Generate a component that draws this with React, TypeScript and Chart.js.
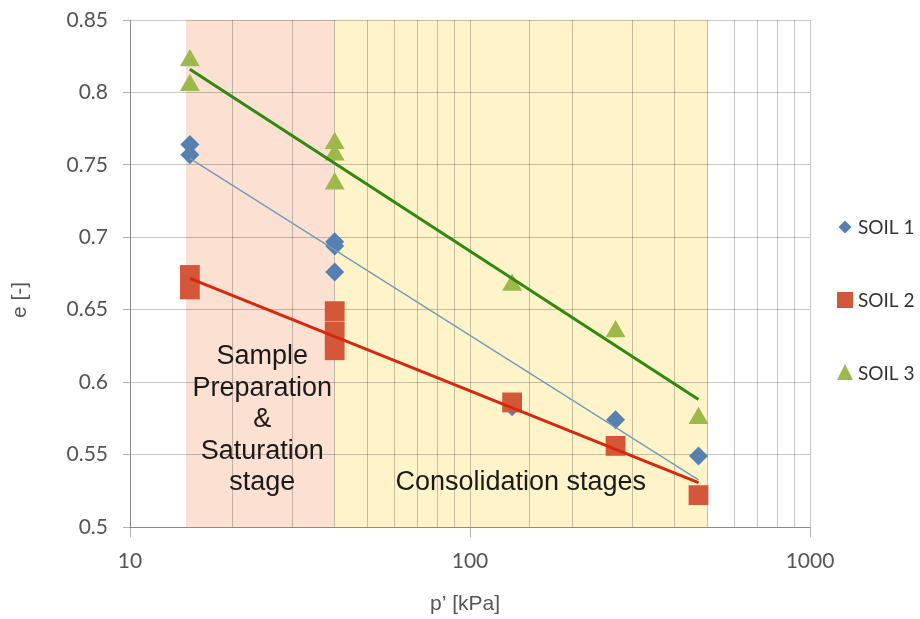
import React, { useEffect, useRef } from 'react';
import { Chart, registerables } from 'chart.js';

Chart.register(...registerables);

// ---- data ----
const soil1X = [15, 15, 40, 40, 40, 133, 268, 470];
const soil1Y = [0.764, 0.757, 0.697, 0.694, 0.676, 0.583, 0.574, 0.549];
const soil2X = [15, 15, 40, 40, 40, 133, 268, 470];
const soil2Y = [0.674, 0.664, 0.649, 0.635, 0.622, 0.586, 0.556, 0.522];
const soil3X = [15, 15, 40, 40, 40, 133, 268, 470];
const soil3Y = [0.822, 0.805, 0.765, 0.757, 0.737, 0.667, 0.635, 0.575];
const trendX = [15, 470];
const trend1Y = [0.7545, 0.5325];
const trend2Y = [0.6717, 0.5306];
const trend3Y = [0.816, 0.588];
const bandStart = [14.6, 40];
const bandEnd = [40, 500];
const stageLabelX = [24.5, 141];
const stageLabelY = [0.6175, 0.5305];
const stageLabels = [
  ['Sample', 'Preparation', '&', 'Saturation', 'stage'],
  ['Consolidation stages'],
];
const xTickLabels = [10, 100, 1000];
const seriesNames = ['SOIL 1', 'SOIL 2', 'SOIL 3'];
const xTitle = 'p\u2019 [kPa]';
const yTitle = 'e [-]';

const C1 = '#5580B0';
const C2 = '#D5573A';
const C3 = '#9DB84B';
const BAND_COLORS = ['rgb(252,224,210)', 'rgb(255,243,201)'];

const pts = (xs: number[], ys: number[]) => xs.map((x, i) => ({ x, y: ys[i] }));

const bandsPlugin = {
  id: 'bands',
  beforeDraw(chart: any) {
    const { ctx, chartArea } = chart;
    const xs = chart.scales.x;
    ctx.save();
    for (let i = 0; i < bandStart.length; i++) {
      const a = xs.getPixelForValue(bandStart[i]);
      const b = xs.getPixelForValue(bandEnd[i]);
      ctx.fillStyle = BAND_COLORS[i];
      ctx.fillRect(a, chartArea.top, b - a, chartArea.bottom - chartArea.top);
    }
    ctx.restore();
  },
};

const stageTextPlugin = {
  id: 'stageText',
  beforeDatasetsDraw(chart: any) {
    const { ctx } = chart;
    const xs = chart.scales.x;
    const ys = chart.scales.y;
    ctx.save();
    ctx.fillStyle = '#1a1a1a';
    ctx.font = '27px "Liberation Sans", Arial, sans-serif';
    ctx.textAlign = 'center';
    ctx.textBaseline = 'middle';
    for (let i = 0; i < stageLabels.length; i++) {
      const x = xs.getPixelForValue(stageLabelX[i]);
      const y0 = ys.getPixelForValue(stageLabelY[i]);
      stageLabels[i].forEach((line, j) => ctx.fillText(line, x, y0 + j * 31.5));
    }
    ctx.restore();
  },
};

const decorPlugin = {
  id: 'decor',
  afterDraw(chart: any) {
    const { ctx, chartArea } = chart;
    ctx.save();
    // axis titles
    ctx.fillStyle = '#555';
    ctx.font = '21px "Liberation Sans", Arial, sans-serif';
    ctx.textAlign = 'center';
    ctx.textBaseline = 'middle';
    ctx.fillText(xTitle, (chartArea.left + chartArea.right) / 2 - 5, 604);
    ctx.save();
    ctx.translate(20, 300);
    ctx.rotate(-Math.PI / 2);
    ctx.fillText(yTitle, 0, 0);
    ctx.restore();
    // legend
    const lx = chartArea.right + 35;
    const ly = [227, 300, 373];
    const colors = [C1, C2, C3];
    ctx.font = '19px Lato, sans-serif';
    ctx.textAlign = 'left';
    for (let i = 0; i < 3; i++) {
      const y = ly[i];
      ctx.fillStyle = colors[i];
      ctx.beginPath();
      if (i === 0) {
        ctx.moveTo(lx - 6.5, y); ctx.lineTo(lx, y - 6.5); ctx.lineTo(lx + 6.5, y); ctx.lineTo(lx, y + 6.5);
      } else if (i === 1) {
        ctx.rect(lx - 8, y - 8, 16, 16);
      } else {
        ctx.moveTo(lx, y - 9); ctx.lineTo(lx + 8, y + 7); ctx.lineTo(lx - 8, y + 7);
      }
      ctx.closePath();
      ctx.fill();
      ctx.fillStyle = '#333';
      ctx.fillText(seriesNames[i], lx + 13, y + 1);
    }
    ctx.restore();
  },
};

export default function App() {
  const ref = useRef<HTMLCanvasElement>(null);
  useEffect(() => {
    if (!ref.current) return;
    Chart.defaults.font.family = 'Lato, sans-serif';
    const chart = new Chart(ref.current, {
      type: 'scatter',
      data: {
        datasets: [
          { label: 'trend3', data: pts(trendX, trend3Y), showLine: true, borderColor: '#2F8A10', borderWidth: 3, pointRadius: 0, order: 0 },
          { label: 'trend2', data: pts(trendX, trend2Y), showLine: true, borderColor: '#D6280C', borderWidth: 3, pointRadius: 0, order: 0 },
          { label: 'trend1', data: pts(trendX, trend1Y), showLine: true, borderColor: '#6E9DB8', borderWidth: 1.3, pointRadius: 0, order: 0 },
          { label: seriesNames[1], data: pts(soil2X, soil2Y), pointStyle: 'rect', pointRadius: 14, backgroundColor: C2, borderWidth: 0, order: 1 },
          { label: seriesNames[2], data: pts(soil3X, soil3Y), pointStyle: 'triangle', pointRadius: 11.5, backgroundColor: C3, borderWidth: 0, order: 2 },
          { label: seriesNames[0], data: pts(soil1X, soil1Y), pointStyle: 'rectRot', pointRadius: 9.5, backgroundColor: C1, borderWidth: 0, order: 3 },
        ] as any,
      },
      options: {
        animation: false,
        responsive: true,
        maintainAspectRatio: false,
        layout: { padding: { top: 20, right: 110, left: 0, bottom: 0 } },
        plugins: { legend: { display: false }, tooltip: { enabled: false } },
        scales: {
          x: {
            type: 'logarithmic',
            min: 10,
            max: 1000,
            afterFit: (s: any) => { s.height = 92; },
            grid: {
              color: 'rgba(0,0,0,0.22)',
              tickLength: 10,
              tickColor: (c: any) => (c.tick && xTickLabels.includes(c.tick.value) ? 'rgba(0,0,0,0.3)' : 'rgba(0,0,0,0)'),
            },
            border: { color: 'rgba(0,0,0,0.3)' },
            ticks: {
              autoSkip: false,
              maxRotation: 0,
              padding: 12,
              color: '#555',
              font: { size: 21 },
              callback: (v: any) => (xTickLabels.includes(Number(v)) ? String(v) : ''),
            },
          },
          y: {
            min: 0.5,
            max: 0.85,
            afterFit: (s: any) => { s.width = 130; s.paddingTop = 0; s.paddingBottom = 0; },
            grid: { color: 'rgba(0,0,0,0.22)', tickLength: 7, tickColor: 'rgba(0,0,0,0.3)' },
            border: { color: 'rgba(0,0,0,0.3)' },
            ticks: {
              stepSize: 0.05,
              padding: 15,
              color: '#555',
              font: { size: 21 },
              callback: (v: any) => String(Number(Number(v).toFixed(2))),
            },
          },
        },
      },
      plugins: [bandsPlugin, stageTextPlugin, decorPlugin],
    });
    return () => chart.destroy();
  }, []);
  return (
    <div style={{ position: 'absolute', left: 0, top: 0, width: 920, height: 619 }}>
      <canvas ref={ref} />
    </div>
  );
}
